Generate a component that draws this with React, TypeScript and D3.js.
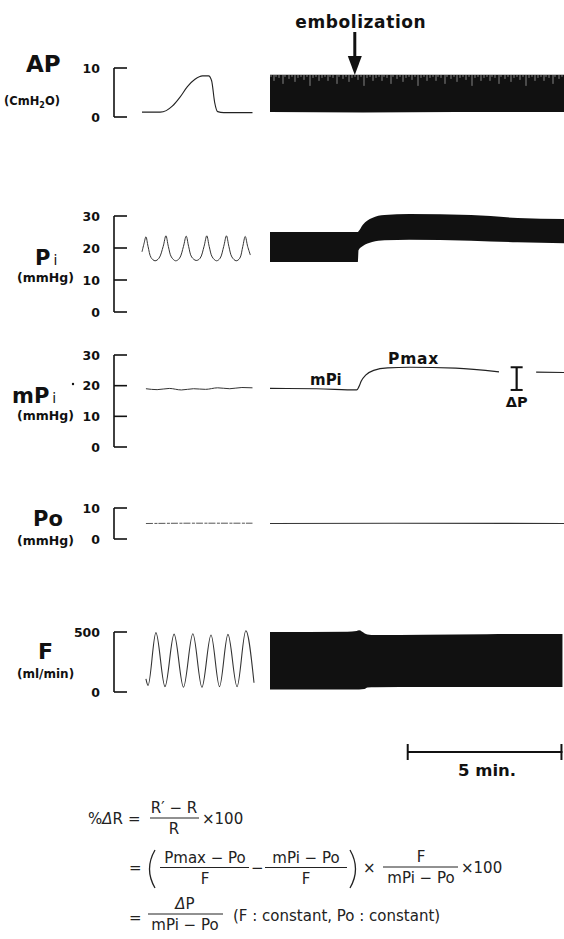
import React from "react";
import * as d3 from "d3";

const W = 564;
const H = 939;

// ---------- data ----------
// fast-speed strip: time in seconds; slow-speed strip: time in minutes
const FAST_T: [number, number] = [0, 37];
const SLOW_T: [number, number] = [0, 9.5];
const EMBOLIZATION_T = 2.74;
const SCALE_BAR_START = 4.45;
const SCALE_BAR_MIN = 5;

const AP_TICKS = [0, 10];
const PI_TICKS = [0, 10, 20, 30];
const MPI_TICKS = [0, 10, 20, 30];
const PO_TICKS = [0, 10];
const F_TICKS = [0, 500];

// AP (cmH2O), fast strip
const AP_FAST: [number, number][] = [
  [0, 1.0], [6, 1.0], [8, 1.3], [10, 2.2], [12.5, 4.0], [15, 6.2], [17.5, 7.7],
  [20, 8.4], [22, 8.4], [23, 7.4], [24, 3.0], [25, 1.1], [27, 0.9], [36.5, 0.9],
];
// AP slow strip envelope [t, top, bottom]
const AP_SLOW: [number, number, number][] = [
  [0, 8.6, 1.0], [3, 8.6, 0.9], [6, 8.6, 1.0], [9.5, 8.6, 1.0],
];

// Pi (mmHg), fast strip
const PI_FAST: [number, number][] = [
  [0, 18.8], [0.7, 21.5], [1.3, 23.5], [2.0, 20.5], [3.0, 17.0], [4.3, 16.0], [5.6, 16.8],
  [7.0, 20.5], [7.9, 23.8], [8.7, 20.5], [9.7, 17.2], [11.1, 16.0], [12.4, 16.8],
  [13.7, 20.5], [14.6, 23.7], [15.4, 20.5], [16.4, 17.2], [17.9, 16.1], [19.2, 16.8],
  [20.5, 20.5], [21.4, 23.8], [22.2, 20.5], [23.2, 17.2], [24.6, 16.0], [25.8, 16.8],
  [27.0, 20.5], [27.9, 23.8], [28.7, 20.5], [29.7, 17.2], [31.1, 16.0], [32.3, 16.8],
  [33.3, 20.5], [34.1, 23.6], [34.9, 20.5], [35.8, 17.8],
];
// Pi slow strip envelope [t, top, bottom]
const PI_SLOW: [number, number, number][] = [
  [0, 25.0, 15.6], [2.84, 25.0, 15.6], [2.86, 25.2, 19.3], [3.0, 27.3, 20.6],
  [3.3, 29.4, 21.9], [3.7, 30.3, 22.4], [4.5, 30.6, 22.6], [6.5, 30.3, 22.3],
  [8.0, 29.4, 21.8], [9.5, 29.1, 21.5],
];

// mPi (mmHg)
const MPI_FAST: [number, number][] = [
  [1.3, 19.0], [5, 18.7], [9, 19.1], [13, 18.6], [17, 19.0], [21, 18.8],
  [25, 19.3], [29, 19.0], [33, 19.4], [36.5, 19.3],
];
const MPI_SLOW: [number, number][] = [
  [0, 19.1], [1.5, 19.0], [2.8, 18.6], [2.87, 19.6], [2.95, 21.5], [3.1, 23.5],
  [3.35, 25.0], [3.8, 25.8], [4.5, 26.0], [6.0, 25.7], [7.4, 24.5], [7.5, NaN],
  [8.6, 24.4], [9.5, 24.3],
];
const DELTA_P_T = 7.97;
const DELTA_P_TOP = 26.0;
const DELTA_P_BOTTOM = 18.6;

// Po (mmHg)
const PO_FAST: [number, number][] = [[1.3, 5.0], [18, 5.1], [36.5, 5.1]];
const PO_SLOW: [number, number][] = [[0, 5.0], [4, 5.1], [9.5, 5.0]];

// F (ml/min)
const F_FAST: [number, number][] = [
  [1.3, 110], [2.0, 55], [4.6, 495], [7.6, 45], [10.6, 482], [13.7, 40], [16.8, 485],
  [19.8, 40], [22.8, 475], [25.6, 45], [28.4, 480], [31.4, 45], [34.3, 510], [37.0, 77],
];
const F_SLOW: [number, number, number][] = [
  [0, 500, 20], [2.5, 502, 20], [2.8, 508, 20], [2.88, 514, 20], [3.05, 490, 24],
  [3.15, 480, 38], [3.4, 475, 40], [5, 478, 41], [7, 482, 42], [9.45, 483, 42],
];

// ---------- scales ----------
const xFast = d3.scaleLinear().domain(FAST_T).range([142, 254]);
const xSlow = d3.scaleLinear().domain(SLOW_T).range([270, 564]);

const yAP = d3.scaleLinear().domain([0, 10]).range([117, 68]);
const yPi = d3.scaleLinear().domain([0, 30]).range([312, 216]);
const yMPi = d3.scaleLinear().domain([0, 30]).range([447, 355]);
const yPo = d3.scaleLinear().domain([0, 10]).range([539, 508]);
const yF = d3.scaleLinear().domain([0, 500]).range([692, 632]);

const BOLD = "'DejaVu Sans', 'Liberation Sans', Arial, sans-serif";
const INK = "#111";

function fastLine(y: d3.ScaleLinear<number, number>, curve: d3.CurveFactory = d3.curveMonotoneX) {
  return d3
    .line<[number, number]>()
    .x((d) => xFast(d[0]))
    .y((d) => y(d[1]))
    .curve(curve);
}
function slowLine(y: d3.ScaleLinear<number, number>) {
  return d3
    .line<[number, number]>()
    .defined((d) => !isNaN(d[1]))
    .x((d) => xSlow(d[0]))
    .y((d) => y(d[1]))
    .curve(d3.curveMonotoneX);
}
function slowBand(y: d3.ScaleLinear<number, number>) {
  return d3
    .area<[number, number, number]>()
    .x((d) => xSlow(d[0]))
    .y0((d) => y(d[2]))
    .y1((d) => y(d[1]))
    .curve(d3.curveMonotoneX);
}

function Bracket({ y, ticks }: { y: d3.ScaleLinear<number, number>; ticks: number[] }) {
  const ax = 114;
  const [lo, hi] = d3.extent(ticks) as [number, number];
  return (
    <g>
      <line x1={ax} x2={ax} y1={y(lo)} y2={y(hi)} stroke={INK} strokeWidth={1.6} />
      {ticks.map((t) => (
        <g key={t}>
          <line x1={ax} x2={ax + 13} y1={y(t)} y2={y(t)} stroke={INK} strokeWidth={1.6} />
          <text
            x={100}
            y={y(t)}
            dy="0.36em"
            textAnchor="end"
            fontFamily={BOLD}
            fontWeight="bold"
            fontSize={12.5}
            fill={INK}
          >
            {t}
          </text>
        </g>
      ))}
    </g>
  );
}

function Frac({ cx, num, den, barY, x1, x2 }: { cx: number; num: React.ReactNode; den: React.ReactNode; barY: number; x1: number; x2: number }) {
  return (
    <g>
      <text x={cx} y={barY - 5} textAnchor="middle">{num}</text>
      <line x1={x1} x2={x2} y1={barY} y2={barY} stroke="#222" strokeWidth={1} />
      <text x={cx} y={barY + 16} textAnchor="middle">{den}</text>
    </g>
  );
}

export default function App() {
  const apTop = yAP(AP_SLOW[0][1]);
  const arrowX = xSlow(EMBOLIZATION_T);
  const dpX = xSlow(DELTA_P_T);
  const barX1 = xSlow(SCALE_BAR_START);
  const barX2 = xSlow(SCALE_BAR_START + SCALE_BAR_MIN);

  // texture strokes on the top of the compressed AP record (x offset, length)
  const texLines: [number, number][] = [
    [1, 2], [4, 6], [6, 2], [9, 3], [13, 9], [15, 2], [19, 4], [22, 2], [25, 7],
    [28, 3], [31, 2], [34, 5], [37, 2], [40, 11], [43, 3], [46, 2], [49, 6], [52, 3],
  ];

  return (
    <svg width={W} height={H} viewBox={`0 0 ${W} ${H}`} style={{ display: "block", position: "absolute", left: 0, top: 0, background: "#fff" }}>
      <defs>
        <pattern id="apTex" x={270} y={apTop} width={54} height={16} patternUnits="userSpaceOnUse">
          {texLines.map(([x, h], i) => (
            <line key={i} x1={x} x2={x} y1={0} y2={h} stroke="#fff" strokeWidth={0.6} opacity={0.8} />
          ))}
        </pattern>
      </defs>
      <rect x={0} y={0} width={W} height={H} fill="#fff" />

      {/* embolization */}
      <text x={arrowX + 6} y={28} textAnchor="middle" fontFamily={BOLD} fontWeight="bold" fontSize={17} letterSpacing={0.6} fill={INK}>
        embolization
      </text>
      <line x1={arrowX} x2={arrowX} y1={32} y2={60} stroke={INK} strokeWidth={3} />
      <path d={`M${arrowX - 7},56 L${arrowX + 7},56 L${arrowX},75 Z`} fill={INK} />

      {/* ---------- AP ---------- */}
      <text x={26} y={72} fontFamily={BOLD} fontWeight="bold" fontSize={23} fill={INK}>AP</text>
      <text x={4} y={105} fontFamily={BOLD} fontWeight="bold" fontSize={11.5} fill={INK}>
        (CmH<tspan fontSize={8} dy={3}>2</tspan><tspan dy={-3}>O)</tspan>
      </text>
      <Bracket y={yAP} ticks={AP_TICKS} />
      <path d={fastLine(yAP)(AP_FAST) || ""} fill="none" stroke="#222" strokeWidth={1.1} />
      <path d={slowBand(yAP)(AP_SLOW) || ""} fill={INK} />
      <rect x={270} y={apTop} width={294} height={15} fill="url(#apTex)" />

      {/* ---------- Pi ---------- */}
      <text x={35} y={265} fontFamily={BOLD} fontWeight="bold" fontSize={21} fill={INK}>
        P<tspan fontSize={14} fontWeight="normal" dx={3}>i</tspan>
      </text>
      <text x={17} y={282} fontFamily={BOLD} fontWeight="bold" fontSize={12.5} fill={INK}>(mmHg)</text>
      <Bracket y={yPi} ticks={PI_TICKS} />
      <path d={fastLine(yPi, d3.curveCatmullRom)(PI_FAST) || ""} fill="none" stroke="#333" strokeWidth={1} />
      <path d={slowBand(yPi)(PI_SLOW) || ""} fill={INK} />

      {/* ---------- mPi ---------- */}
      <text x={12} y={403} fontFamily={BOLD} fontWeight="bold" fontSize={21} fill={INK}>
        mP<tspan fontSize={14} fontWeight="normal" dx={3}>i</tspan>
      </text>
      <circle cx={73} cy={384} r={1.2} fill={INK} />
      <text x={17} y={420} fontFamily={BOLD} fontWeight="bold" fontSize={12.5} fill={INK}>(mmHg)</text>
      <Bracket y={yMPi} ticks={MPI_TICKS} />
      <path d={fastLine(yMPi)(MPI_FAST) || ""} fill="none" stroke="#333" strokeWidth={1} />
      <path d={slowLine(yMPi)(MPI_SLOW) || ""} fill="none" stroke="#222" strokeWidth={1.2} />
      <text x={310} y={385} fontFamily={BOLD} fontWeight="bold" fontSize={15} fill={INK}>mPi</text>
      <text x={388} y={364} fontFamily={BOLD} fontWeight="bold" fontSize={15.5} letterSpacing={0.8} fill={INK}>Pmax</text>
      <line x1={dpX} x2={dpX} y1={yMPi(DELTA_P_TOP)} y2={yMPi(DELTA_P_BOTTOM)} stroke={INK} strokeWidth={2.2} />
      <line x1={dpX - 6} x2={dpX + 6} y1={yMPi(DELTA_P_TOP)} y2={yMPi(DELTA_P_TOP)} stroke={INK} strokeWidth={2} />
      <line x1={dpX - 6} x2={dpX + 6} y1={yMPi(DELTA_P_BOTTOM)} y2={yMPi(DELTA_P_BOTTOM)} stroke={INK} strokeWidth={2} />
      <text x={dpX} y={yMPi(DELTA_P_BOTTOM) + 17} textAnchor="middle" fontFamily={BOLD} fontWeight="bold" fontSize={14.5} fill={INK}>ΔP</text>

      {/* ---------- Po ---------- */}
      <text x={33} y={526} fontFamily={BOLD} fontWeight="bold" fontSize={21} fill={INK}>Po</text>
      <text x={17} y={545} fontFamily={BOLD} fontWeight="bold" fontSize={12.5} fill={INK}>(mmHg)</text>
      <Bracket y={yPo} ticks={PO_TICKS} />
      <path d={fastLine(yPo)(PO_FAST) || ""} fill="none" stroke="#555" strokeWidth={1} strokeDasharray="7 1.5 3 1" />
      <path d={slowLine(yPo)(PO_SLOW) || ""} fill="none" stroke="#333" strokeWidth={1.1} />

      {/* ---------- F ---------- */}
      <text x={38} y={659} fontFamily={BOLD} fontWeight="bold" fontSize={22} fill={INK}>F</text>
      <text x={17} y={678} fontFamily={BOLD} fontWeight="bold" fontSize={12} fill={INK}>(ml/min)</text>
      <Bracket y={yF} ticks={F_TICKS} />
      <path d={fastLine(yF)(F_FAST) || ""} fill="none" stroke="#333" strokeWidth={1.1} />
      <path d={slowBand(yF)(F_SLOW) || ""} fill={INK} />

      {/* ---------- scale bar ---------- */}
      <line x1={barX1} x2={barX2} y1={752} y2={752} stroke={INK} strokeWidth={2} />
      <line x1={barX1} x2={barX1} y1={744} y2={760} stroke={INK} strokeWidth={2} />
      <line x1={barX2 - 1} x2={barX2 - 1} y1={744} y2={760} stroke={INK} strokeWidth={2} />
      <text x={(barX1 + barX2) / 2 + 2} y={776} textAnchor="middle" fontFamily={BOLD} fontWeight="bold" fontSize={16.5} fill={INK}>5 min.</text>

      {/* ---------- formula ---------- */}
      <g fontFamily="'DejaVu Sans', 'Liberation Sans', sans-serif" fontSize={15} fill="#222">
        <text x={88} y={824}>%<tspan fontStyle="italic">Δ</tspan>R</text>
        <text x={128} y={824}>=</text>
        <Frac cx={174} x1={150} x2={199} barY={818} num="R′ − R" den="R" />
        <text x={202} y={824}>×100</text>

        <text x={129} y={873}>=</text>
        <path d="M155,850 Q144,869 155,888" fill="none" stroke="#222" strokeWidth={1.3} />
        <Frac cx={205} x1={160} x2={249} barY={867.5} num="Pmax − Po" den="F" />
        <text x={251} y={873}>−</text>
        <Frac cx={306} x1={265} x2={347} barY={867.5} num="mPi − Po" den="F" />
        <path d="M350,850 Q361,869 350,888" fill="none" stroke="#222" strokeWidth={1.3} />
        <text x={363} y={873}>×</text>
        <Frac cx={421} x1={383} x2={458} barY={867} num="F" den="mPi − Po" />
        <text x={461} y={873}>×100</text>

        <text x={129} y={923}>=</text>
        <Frac cx={185} x1={148} x2={223} barY={914} num={<><tspan fontStyle="italic">Δ</tspan>P</>} den="mPi − Po" />
        <text x={233} y={921}>(F : constant, Po : constant)</text>
      </g>
    </svg>
  );
}
